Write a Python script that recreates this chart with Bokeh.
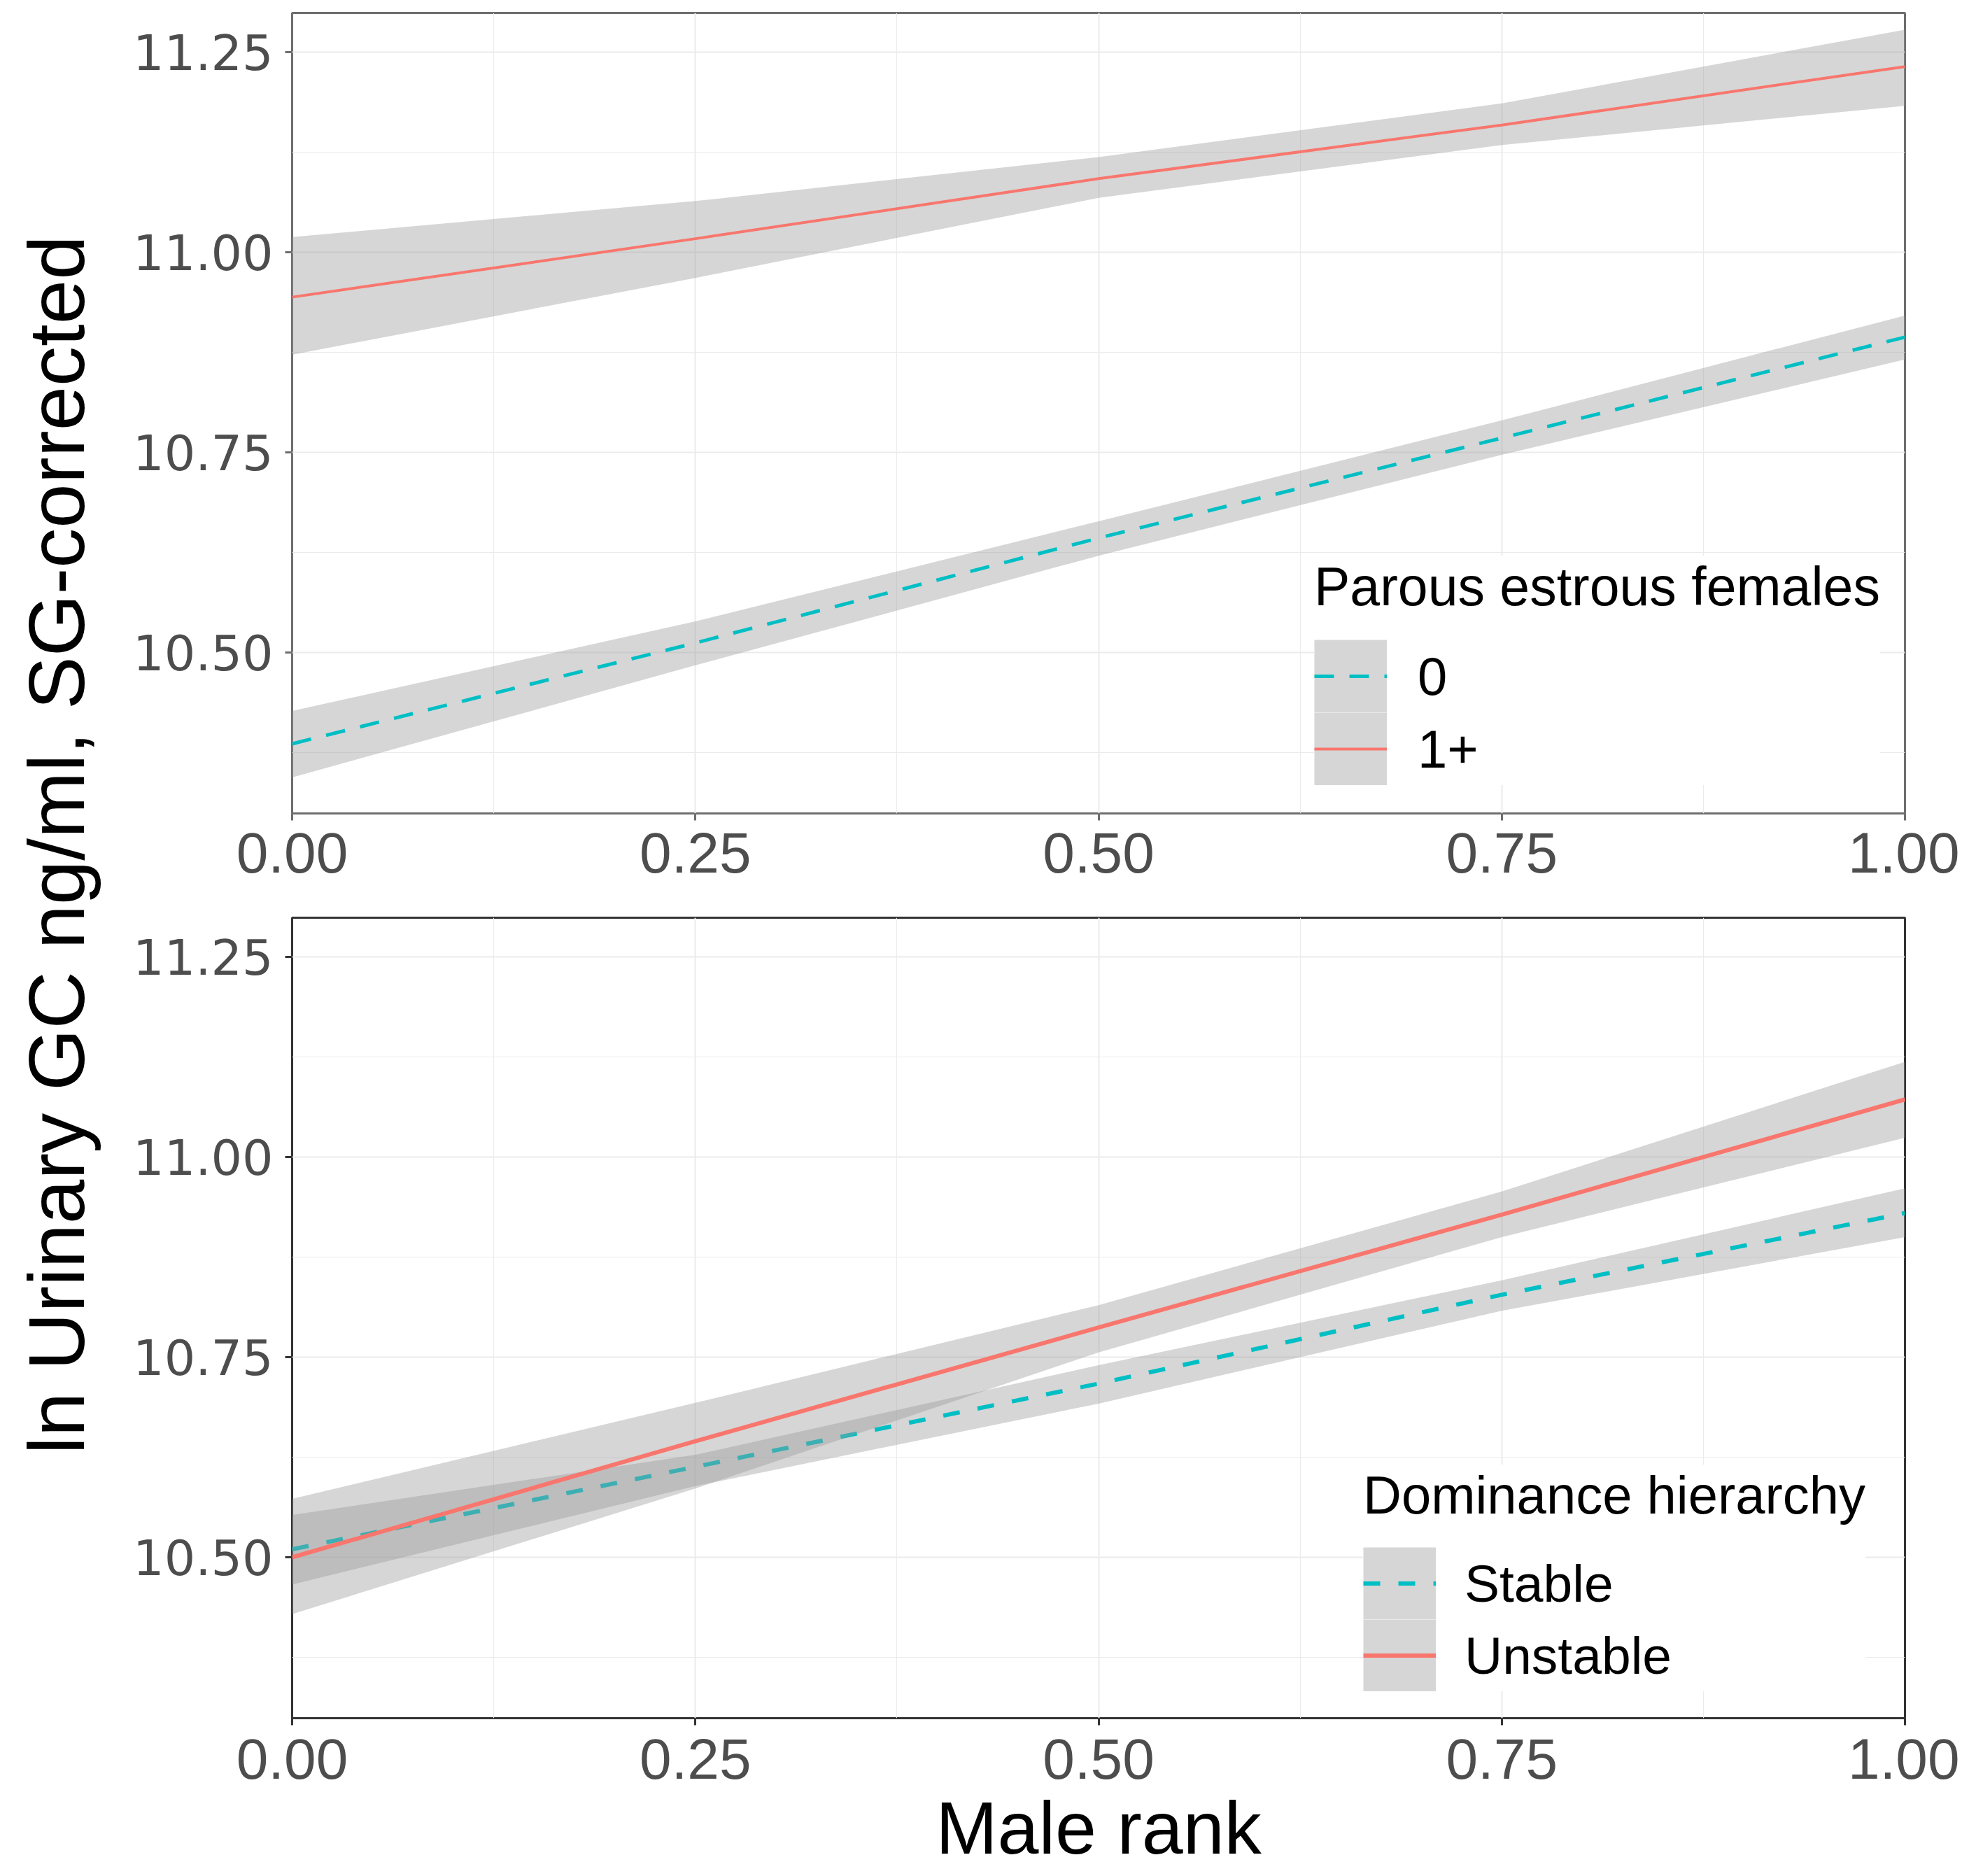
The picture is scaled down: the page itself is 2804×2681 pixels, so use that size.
from math import pi

from bokeh.plotting import figure
from bokeh.models import (Range1d, FixedTicker, Legend, LegendItem, Label,
                          PrintfTickFormatter)
from bokeh.layouts import row, column
from bokeh.embed import file_html
from bokeh.resources import INLINE

# ---------------- data ----------------
male_rank = [0.0, 0.25, 0.5, 0.75, 1.0]

# Top panel: Parous estrous females
parous_0_fit = [10.386, 10.512, 10.643, 10.768, 10.894]
parous_0_lower = [10.344, 10.484, 10.621, 10.747, 10.866]
parous_0_upper = [10.427, 10.539, 10.664, 10.790, 10.921]
parous_1_fit = [10.944, 11.017, 11.092, 11.159, 11.232]
parous_1_lower = [10.872, 10.968, 11.068, 11.134, 11.183]
parous_1_upper = [11.019, 11.064, 11.119, 11.186, 11.278]

# Bottom panel: Dominance hierarchy
stable_fit = [10.510, 10.613, 10.717, 10.828, 10.930]
stable_lower = [10.466, 10.589, 10.692, 10.808, 10.900]
stable_upper = [10.553, 10.628, 10.740, 10.846, 10.961]
unstable_fit = [10.500, 10.645, 10.787, 10.928, 11.072]
unstable_lower = [10.429, 10.586, 10.756, 10.900, 11.024]
unstable_upper = [10.573, 10.693, 10.815, 10.957, 11.119]

x_ticks = [0.0, 0.25, 0.5, 0.75, 1.0]
x_tick_labels = ["0.00", "0.25", "0.50", "0.75", "1.00"]
x_minor = [0.125, 0.375, 0.625, 0.875]
y_ticks = [10.5, 10.75, 11.0, 11.25]
y_tick_labels = ["10.50", "10.75", "11.00", "11.25"]
y_minor = [10.375, 10.625, 10.875, 11.125]

top_legend_title = "Parous estrous females"
top_groups = ["0", "1+"]
bottom_legend_title = "Dominance hierarchy"
bottom_groups = ["Stable", "Unstable"]
y_title = "ln Urinary GC ng/ml, SG-corrected"
x_title = "Male rank"

FONT = "Liberation Sans"
YTICK_FONT = "DejaVu Sans"
TEAL = "#00BFC4"
RED = "#F8766D"
BAND = "#999999"
NAN = float("nan")

TOTAL_H = 2676
YLAB_W = 180
MAIN_W = 2620


def make_panel(height, border_top, border_bottom, outline_color, x_standoff,
               xlabel=None):
    p = figure(width=MAIN_W, height=height,
               x_range=Range1d(0, 1), y_range=Range1d(10.299, 11.299),
               output_backend="svg", toolbar_location=None,
               min_border_left=237, min_border_right=78,
               min_border_top=border_top, min_border_bottom=border_bottom)
    p.background_fill_color = "white"
    p.border_fill_color = "white"
    p.outline_line_color = outline_color
    p.outline_line_width = 3

    xt = FixedTicker(ticks=x_ticks, minor_ticks=x_minor)
    yt = FixedTicker(ticks=y_ticks, minor_ticks=y_minor)
    p.xaxis.ticker = xt
    p.xgrid.ticker = xt
    p.yaxis.ticker = yt
    p.ygrid.ticker = yt
    p.xaxis.formatter = PrintfTickFormatter(format="%.2f")
    p.yaxis.formatter = PrintfTickFormatter(format="%.2f")
    p.xaxis.major_label_overrides = dict(zip(x_ticks, x_tick_labels))
    p.yaxis.major_label_overrides = dict(zip(y_ticks, y_tick_labels))

    p.grid.grid_line_color = "#EBEBEB"
    p.grid.grid_line_width = 2
    p.grid.minor_grid_line_color = "#EBEBEB"
    p.grid.minor_grid_line_width = 1

    for ax in (p.xaxis, p.yaxis):
        ax.axis_line_color = None
        ax.major_tick_in = 0
        ax.major_tick_out = 10
        ax.major_tick_line_color = outline_color
        ax.major_tick_line_width = 3
        ax.minor_tick_line_color = None
        ax.major_label_text_color = "#4D4D4D"
    p.xaxis.major_label_text_font = FONT
    p.yaxis.major_label_text_font = YTICK_FONT
    p.xaxis.major_label_text_font_size = "82px"
    p.yaxis.major_label_text_font_size = "70px"
    p.xaxis.major_label_standoff = x_standoff
    p.yaxis.major_label_standoff = 17
    if xlabel:
        p.xaxis.axis_label = xlabel
        p.xaxis.axis_label_text_font = FONT
        p.xaxis.axis_label_text_font_size = "106px"
        p.xaxis.axis_label_text_font_style = "normal"
        p.xaxis.axis_label_text_color = "black"
        p.xaxis.axis_label_standoff = 8
    return p


def add_group(p, lower, upper, fit, color, dash, width):
    p.varea(x=male_rank, y1=lower, y2=upper, fill_color=BAND, fill_alpha=0.4)
    line = p.line(x=male_rank, y=fit, line_color=color, line_width=width,
                  line_dash=dash)
    return line


def legend_key(p, key_h):
    # legend-only grey key background (no visible data)
    return p.line(x=[NAN], y=[NAN], line_color=BAND, line_alpha=0.4,
                  line_width=key_h, line_cap="butt")


def add_legend(p, title, items, loc, glyph_w, glyph_h, title_size,
               label_size, title_standoff, label_standoff):
    leg = Legend(items=items, title=title, location=loc,
                 orientation="vertical",
                 padding=12, margin=0, spacing=0,
                 glyph_width=glyph_w, glyph_height=glyph_h,
                 label_height=glyph_h, label_standoff=label_standoff,
                 title_standoff=title_standoff,
                 border_line_color=None,
                 background_fill_color="white", background_fill_alpha=1.0,
                 label_text_font=FONT, label_text_font_size=label_size,
                 label_text_color="black",
                 title_text_font=FONT, title_text_font_size=title_size,
                 title_text_font_style="normal", title_text_color="black")
    p.add_layout(leg)


# ---------------- top panel ----------------
top = make_panel(1288, 18, 126, "#6E6E6E", 17)
l0 = add_group(top, parous_0_lower, parous_0_upper, parous_0_fit,
               TEAL, "28 22", 5)
l1 = add_group(top, parous_1_lower, parous_1_upper, parous_1_fit,
               RED, "solid", 4)
k0 = legend_key(top, 104)
k1 = legend_key(top, 104)
add_legend(top, top_legend_title,
           [LegendItem(label=top_groups[0], renderers=[k0, l0]),
            LegendItem(label=top_groups[1], renderers=[k1, l1])],
           (1461, 40), 104, 104, "77px", "76px", 31, 44)

# ---------------- bottom panel ----------------
bottom = make_panel(TOTAL_H - 1288, 23, 221, "#333333", 19, xlabel=x_title)
l2 = add_group(bottom, stable_lower, stable_upper, stable_fit,
               TEAL, "24 26", 6)
l3 = add_group(bottom, unstable_lower, unstable_upper, unstable_fit,
               RED, "solid", 6)
k2 = legend_key(bottom, 103)
k3 = legend_key(bottom, 103)
add_legend(bottom, bottom_legend_title,
           [LegendItem(label=bottom_groups[0], renderers=[k2, l2]),
            LegendItem(label=bottom_groups[1], renderers=[k3, l3])],
           (1531, 38), 104, 103, "76px", "75px", 31, 41)

# ---------------- shared y title ----------------
ylab = figure(width=YLAB_W, height=TOTAL_H, x_range=Range1d(0, YLAB_W),
              y_range=Range1d(0, TOTAL_H), x_axis_type=None,
              y_axis_type=None, output_backend="svg",
              toolbar_location=None, min_border=0)
ylab.outline_line_color = None
ylab.background_fill_color = "white"
ylab.border_fill_color = "white"
ylab.add_layout(Label(x=80, y=TOTAL_H - 1207, text=y_title, angle=pi / 2,
                      text_align="center", text_baseline="alphabetic",
                      text_font=FONT, text_font_size="114px",
                      text_color="black"))

layout = row(ylab, column(top, bottom))

open("out.html", "w").write(file_html(layout, INLINE))
